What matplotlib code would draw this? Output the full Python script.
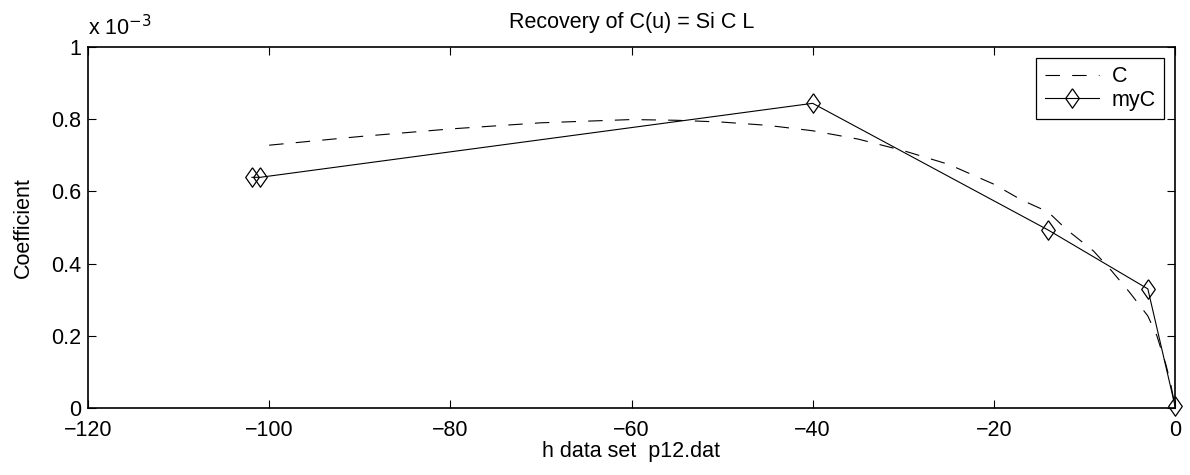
import matplotlib.pyplot as plt
import numpy as np
from matplotlib.ticker import FuncFormatter

plt.rcParams['font.family'] = ['Liberation Sans', 'DejaVu Sans']
plt.rcParams['font.size'] = 15.5

#----------------------
# Dados (escala 1e-3)
#----------------------

# Curva C (tracejada)
c_h = [-100, -90, -80, -70, -60, -55, -50, -45, -40, -35, -30, -25, -20,
       -17, -14, -12, -9, -7, -5, -3, -2, -1, -0.5, 0]
c_val = [0.728, 0.752, 0.773, 0.790, 0.799, 0.797, 0.792, 0.783, 0.768,
         0.745, 0.713, 0.675, 0.620, 0.577, 0.543, 0.495, 0.435, 0.380,
         0.320, 0.255, 0.200, 0.120, 0.070, 0.005]

# Curva myC (com losangos)
myc_h = [-101.9, -101.0, -40.0, -14.0, -3.0, 0.0]
myc_val = [0.639, 0.639, 0.844, 0.493, 0.330, 0.006]

escala = 1e-3

#----------------------
# Plotagem
#----------------------

fig = plt.figure(figsize=(11.9, 4.75), dpi=100)
ax = fig.add_axes([88 / 1190, 1 - 408 / 475, (1175 - 88) / 1190, (408 - 47) / 475])

diamante = [(0, 1), (0.7, 0), (0, -1), (-0.7, 0), (0, 1)]

ax.plot(c_h, np.array(c_val) * escala, color='black', linestyle=(0, (13, 11)),
        linewidth=0.8, label='C')
ax.plot(myc_h, np.array(myc_val) * escala, color='black', linewidth=0.8,
        marker=diamante, markersize=14, markerfacecolor='none',
        markeredgewidth=0.9, label='myC', clip_on=False, zorder=5)

ax.set_xlim(-120, 0)
ax.set_ylim(0, 1e-3)
ax.set_xticks(np.arange(-120, 1, 20))
ax.set_yticks(np.arange(0, 1.01, 0.2) * escala)
ax.yaxis.set_major_formatter(FuncFormatter(lambda v, p: '%g' % round(v / escala, 1)))

ax.tick_params(direction='in', top=True, right=True, length=6, width=0.8, pad=5)
ax.tick_params(axis='x', pad=9)
for s in ax.spines.values():
    s.set_linewidth(1.2)

ax.set_title('Recovery of C(u) = Si C L', fontsize=15.5, pad=14)
ax.set_xlabel('h data set  p12.dat', labelpad=0)
ax.set_ylabel('Coefficient', labelpad=12)

# multiplicador do eixo y, estilo MATLAB
ax.text(0.0, 1.02, r'x 10$^{-3}$', transform=ax.transAxes, ha='left', va='bottom',
        fontsize=15.5)

leg = ax.legend(loc='upper right', fancybox=False, edgecolor='black', framealpha=1,
                borderaxespad=0.5, handlelength=2.5, borderpad=0.4,
                labelspacing=0.1, handletextpad=0.6)
leg.get_frame().set_linewidth(0.9)

plt.savefig('out.png', dpi=100)
